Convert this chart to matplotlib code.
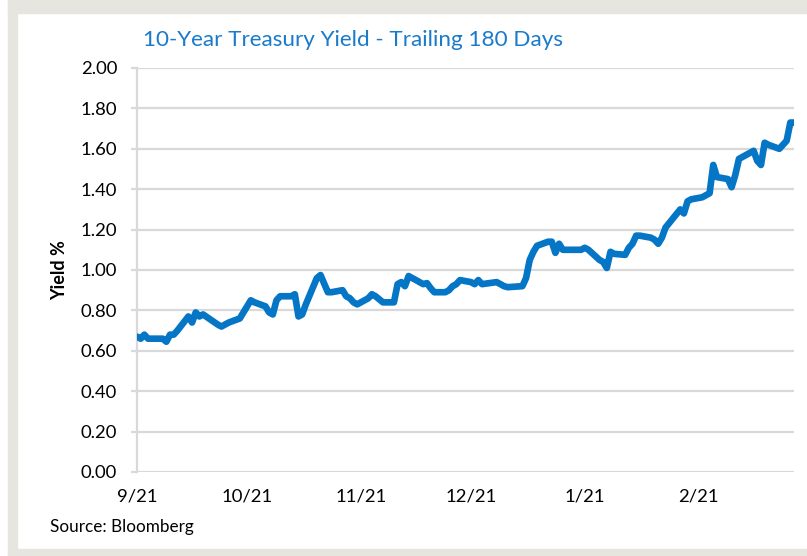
import numpy as np
import pandas as pd
import matplotlib
matplotlib.use('Agg')
import matplotlib.pyplot as plt
from matplotlib.patches import Rectangle

# 10-year treasury yield, trading days
dates = [
    '2020-09-21', '2020-09-22', '2020-09-23', '2020-09-24', '2020-09-25',
    '2020-09-28', '2020-09-29', '2020-09-30', '2020-10-01', '2020-10-02',
    '2020-10-05', '2020-10-06', '2020-10-07', '2020-10-08', '2020-10-09',
    '2020-10-13', '2020-10-14', '2020-10-15', '2020-10-16', '2020-10-19',
    '2020-10-20', '2020-10-21', '2020-10-22', '2020-10-23', '2020-10-26',
    '2020-10-27', '2020-10-28', '2020-10-29', '2020-10-30', '2020-11-02',
    '2020-11-03', '2020-11-04', '2020-11-05', '2020-11-06', '2020-11-09',
    '2020-11-10', '2020-11-12', '2020-11-13', '2020-11-16', '2020-11-17',
    '2020-11-18', '2020-11-19', '2020-11-20', '2020-11-23', '2020-11-24',
    '2020-11-25', '2020-11-27', '2020-11-30', '2020-12-01', '2020-12-02',
    '2020-12-03', '2020-12-04', '2020-12-07', '2020-12-08', '2020-12-09',
    '2020-12-10', '2020-12-11', '2020-12-14', '2020-12-15', '2020-12-16',
    '2020-12-17', '2020-12-18', '2020-12-21', '2020-12-22', '2020-12-23',
    '2020-12-24', '2020-12-28', '2020-12-29', '2020-12-30', '2020-12-31',
    '2021-01-04', '2021-01-05', '2021-01-06', '2021-01-07', '2021-01-08',
    '2021-01-11', '2021-01-12', '2021-01-13', '2021-01-14', '2021-01-15',
    '2021-01-19', '2021-01-20', '2021-01-21', '2021-01-22', '2021-01-25',
    '2021-01-26', '2021-01-27', '2021-01-28', '2021-01-29', '2021-02-01',
    '2021-02-02', '2021-02-03', '2021-02-04', '2021-02-05', '2021-02-08',
    '2021-02-09', '2021-02-10', '2021-02-11', '2021-02-12', '2021-02-16',
    '2021-02-17', '2021-02-18', '2021-02-19', '2021-02-22', '2021-02-23',
    '2021-02-24', '2021-02-25', '2021-02-26', '2021-03-01', '2021-03-02',
    '2021-03-03', '2021-03-04', '2021-03-05', '2021-03-08', '2021-03-09',
    '2021-03-10', '2021-03-11', '2021-03-12', '2021-03-15', '2021-03-16',
    '2021-03-17', '2021-03-18', '2021-03-19',
]
yields = [
    0.67, 0.66, 0.68, 0.66, 0.66,
    0.66, 0.645, 0.68, 0.68, 0.70,
    0.77, 0.74, 0.79, 0.77, 0.78,
    0.73, 0.72, 0.73, 0.74, 0.76,
    0.79, 0.82, 0.85, 0.84, 0.82,
    0.79, 0.78, 0.85, 0.87, 0.87,
    0.88, 0.77, 0.78, 0.83, 0.96,
    0.975, 0.89, 0.89, 0.90, 0.87,
    0.86, 0.84, 0.83, 0.86, 0.88,
    0.87, 0.84, 0.84, 0.93, 0.94,
    0.92, 0.97, 0.94, 0.93, 0.935,
    0.91, 0.89, 0.89, 0.90, 0.92,
    0.93, 0.95, 0.94, 0.93, 0.95,
    0.93, 0.94, 0.93, 0.92, 0.915,
    0.92, 0.96, 1.05, 1.09, 1.12,
    1.14, 1.14, 1.085, 1.13, 1.10,
    1.10, 1.10, 1.11, 1.10, 1.05,
    1.04, 1.01, 1.09, 1.08, 1.075,
    1.11, 1.13, 1.17, 1.17, 1.16,
    1.15, 1.13, 1.16, 1.21, 1.30,
    1.28, 1.34, 1.35, 1.36, 1.37,
    1.38, 1.52, 1.46, 1.45, 1.41,
    1.47, 1.55, 1.56, 1.59, 1.54,
    1.52, 1.63, 1.62, 1.60, 1.62,
    1.64, 1.73, 1.73,
]

tick_dates = ['2020-09-21', '2020-10-21', '2020-11-21', '2020-12-21',
              '2021-01-21', '2021-02-21']
tick_labels = ['9/21', '10/21', '11/21', '12/21', '1/21', '2/21']

W, H = 807, 556
plt.rcParams['font.family'] = ['Lato', 'DejaVu Sans']

fig = plt.figure(figsize=(W / 100, H / 100), dpi=100, facecolor='white')

# grey frame around the chart
frame = '#e6e5e0'
for (x0, y0, w, h) in [(8, 0, W - 8, 13), (8, 0, 9, H), (8, H - 7, W - 8, 7)]:
    fig.patches.append(Rectangle((x0 / W, 1 - (y0 + h) / H), w / W, h / H,
                                 transform=fig.transFigure, color=frame, zorder=0))

ax = fig.add_axes([137 / W, 1 - 472 / H, (794 - 137) / W, (472 - 68) / H])
ax.set_facecolor('none')

x = pd.to_datetime(dates)
ax.plot(x, yields, color='#0575c6', lw=4.8, solid_joinstyle='round',
        solid_capstyle='round', zorder=3)

ax.set_xlim(pd.Timestamp('2020-09-21'), pd.Timestamp('2021-03-19'))
ax.set_ylim(0, 2.0)
ax.set_yticks(np.arange(0, 2.01, 0.2))
ax.set_yticklabels([f'{v:.2f}' for v in np.arange(0, 2.01, 0.2)])
ax.set_xticks(pd.to_datetime(tick_dates))
ax.set_xticklabels(tick_labels)

grid_c = '#d9d9d9'
ax.grid(axis='y', color=grid_c, lw=1.6, zorder=1)
for s in ['top', 'right', 'bottom']:
    ax.spines[s].set_visible(False)
ax.spines['left'].set_color(grid_c)
ax.spines['left'].set_linewidth(1.6)
ax.tick_params(axis='y', length=4.3, width=1.6, color=grid_c, pad=10,
               labelsize=13.3, labelcolor='black')
ax.tick_params(axis='x', length=0, pad=12, labelsize=13.3, labelcolor='black')

ax.set_ylabel('Yield %', fontsize=13, fontweight='bold', labelpad=9)

fig.text(143 / W, 1 - 40 / H, '10-Year Treasury Yield - Trailing 180 Days',
         color='#1a7acb', fontsize=16.2, va='center', ha='left')
fig.text(50 / W, 1 - 527 / H, 'Source: Bloomberg', fontsize=12.3,
         va='center', ha='left')

fig.savefig('out.png', dpi=100, facecolor='white')
